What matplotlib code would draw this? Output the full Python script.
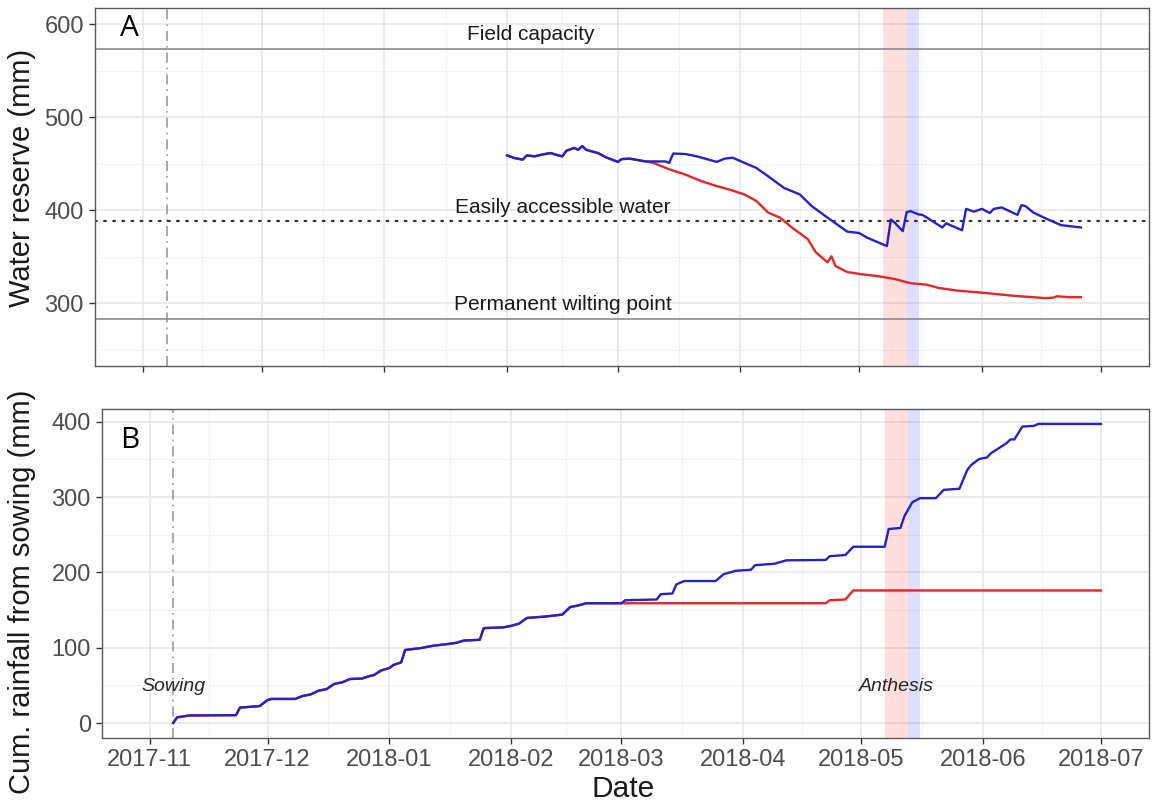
import datetime as dt
import matplotlib
matplotlib.use("Agg")
import matplotlib.pyplot as plt
import matplotlib.dates as mdates

# ---- data -------------------------------------------------------------
# Soil water reserve (mm)
wr_common_dates = ["2018-02-01", "2018-02-03", "2018-02-05", "2018-02-06", "2018-02-08",
                   "2018-02-10", "2018-02-12", "2018-02-14", "2018-02-15", "2018-02-16",
                   "2018-02-18", "2018-02-19", "2018-02-20", "2018-02-21", "2018-02-24",
                   "2018-02-26", "2018-03-01", "2018-03-02", "2018-03-04", "2018-03-06"]
wr_common_vals = [459, 456, 454.5, 459, 458, 460, 461.5, 459, 458, 464,
                  467, 465, 469, 465, 461.5, 457, 452, 455, 455.5, 454]

wr_red_dates = ["2018-03-10", "2018-03-14", "2018-03-18", "2018-03-22", "2018-03-26",
                "2018-03-29", "2018-04-02", "2018-04-05", "2018-04-08", "2018-04-11",
                "2018-04-14", "2018-04-18", "2018-04-20", "2018-04-23", "2018-04-24",
                "2018-04-25", "2018-04-28", "2018-05-02", "2018-05-06", "2018-05-10",
                "2018-05-14", "2018-05-18", "2018-05-21", "2018-05-26", "2018-06-02",
                "2018-06-09", "2018-06-17", "2018-06-19", "2018-06-20", "2018-06-23",
                "2018-06-26"]
wr_red_vals = [451, 444, 438.5, 431.5, 426, 422.5, 417, 410, 397.5, 392,
               381.5, 369, 355, 344, 350.5, 340, 333.5, 331, 329, 326,
               321.5, 320, 316.5, 313.5, 311, 308, 305.5, 306, 307.5, 306.5,
               306.5]

wr_blue_dates = ["2018-03-08", "2018-03-13", "2018-03-14", "2018-03-15", "2018-03-18",
                 "2018-03-21", "2018-03-26", "2018-03-28", "2018-03-30", "2018-04-02",
                 "2018-04-05", "2018-04-08", "2018-04-12", "2018-04-16", "2018-04-19",
                 "2018-04-23", "2018-04-28", "2018-05-01", "2018-05-03", "2018-05-08",
                 "2018-05-09", "2018-05-10", "2018-05-12", "2018-05-13", "2018-05-14",
                 "2018-05-16", "2018-05-17", "2018-05-22", "2018-05-23", "2018-05-24",
                 "2018-05-27", "2018-05-28", "2018-05-30", "2018-06-01", "2018-06-03",
                 "2018-06-04", "2018-06-06", "2018-06-08", "2018-06-10", "2018-06-11",
                 "2018-06-12", "2018-06-14", "2018-06-18", "2018-06-21", "2018-06-26"]
wr_blue_vals = [452.5, 452.5, 451, 461, 460.5, 458, 452, 455.5, 456.5, 451,
                445.5, 436.5, 424, 417, 404.5, 392, 377, 375.5, 370.5, 361.5,
                390, 386.5, 377.5, 398, 399, 395.5, 395, 381.5, 386, 384,
                378.5, 401.5, 398.5, 401.5, 397, 401.5, 403, 399, 395, 405.5,
                404.5, 397.5, 389.5, 384, 381.5]

field_capacity = 573
easily_accessible = 388
wilting_point = 283

# Cumulative rainfall from sowing (mm)
rain_common_dates = ["2017-11-07", "2017-11-08", "2017-11-11", "2017-11-23", "2017-11-24",
                     "2017-11-29", "2017-12-01", "2017-12-02", "2017-12-08", "2017-12-10",
                     "2017-12-12", "2017-12-14", "2017-12-16", "2017-12-18", "2017-12-20",
                     "2017-12-22", "2017-12-25", "2017-12-27", "2017-12-28", "2017-12-30",
                     "2018-01-01", "2018-01-02", "2018-01-04", "2018-01-05", "2018-01-09",
                     "2018-01-12", "2018-01-16", "2018-01-18", "2018-01-20", "2018-01-24",
                     "2018-01-25", "2018-01-30", "2018-02-01", "2018-02-03", "2018-02-05",
                     "2018-02-10", "2018-02-14", "2018-02-16", "2018-02-18", "2018-02-20",
                     "2018-03-01"]
rain_common_vals = [0, 7.5, 10, 10.5, 20.5, 22.5, 30.5, 32, 32, 36,
                    38, 43, 45, 52, 54, 58.5, 59, 62.5, 63.5, 70,
                    73, 77, 80.5, 97, 99.5, 102.5, 105, 106.5, 109.5, 110.5,
                    126, 127, 129, 132, 139.5, 141.5, 144, 154, 156, 159,
                    159]

rain_red_dates = ["2018-03-01", "2018-04-22", "2018-04-23", "2018-04-27", "2018-04-29",
                  "2018-07-01"]
rain_red_vals = [159, 159, 163, 164, 176, 176]

rain_blue_dates = ["2018-03-01", "2018-03-02", "2018-03-10", "2018-03-11", "2018-03-14",
                   "2018-03-15", "2018-03-17", "2018-03-25", "2018-03-27", "2018-03-30",
                   "2018-04-03", "2018-04-04", "2018-04-09", "2018-04-12", "2018-04-22",
                   "2018-04-23", "2018-04-27", "2018-04-29", "2018-05-07", "2018-05-08",
                   "2018-05-11", "2018-05-12", "2018-05-14", "2018-05-16", "2018-05-20",
                   "2018-05-22", "2018-05-26", "2018-05-28", "2018-05-29", "2018-05-31",
                   "2018-06-02", "2018-06-03", "2018-06-07", "2018-06-08", "2018-06-09",
                   "2018-06-11", "2018-06-14", "2018-06-15", "2018-07-01"]
rain_blue_vals = [159, 163, 164, 171, 172, 184, 188.5, 188.5, 197.5, 202,
                  203.5, 209.5, 211.5, 216, 216.5, 221.5, 223, 234, 234, 257.5,
                  259, 274.5, 293, 298.5, 298.5, 309.5, 311, 336, 342.5, 350.5,
                  352.5, 358, 371.5, 376.5, 376.5, 393.5, 394.5, 397, 397]

sowing_date = "2017-11-07"
anthesis_red = ("2018-05-07", "2018-05-13")
anthesis_blue = ("2018-05-13", "2018-05-16")
month_ticks = ["2017-11-01", "2017-12-01", "2018-01-01", "2018-02-01", "2018-03-01",
               "2018-04-01", "2018-05-01", "2018-06-01", "2018-07-01"]

# ---- helpers ------------------------------------------------------------
def d(s):
    return dt.datetime.strptime(s, "%Y-%m-%d")

def ds(lst):
    return [d(s) for s in lst]

plt.rcParams["font.family"] = ["Liberation Sans", "DejaVu Sans"]

W, H = 1153, 805
fig = plt.figure(figsize=(W / 100, H / 100), dpi=100)

def px_axes(left, top, right, bottom):
    return fig.add_axes([left / W, 1 - bottom / H, (right - left) / W, (bottom - top) / H])

ax1 = px_axes(95, 8, 1148.5, 366)
ax2 = px_axes(102, 409, 1148.5, 738)

RED = "#E3262A"
BLUE = "#2323C8"
TICK_COL = "#4D4D4D"
BORDER = "#5A5A5A"

x0 = mdates.date2num(d(month_ticks[0]))
x1 = mdates.date2num(d(month_ticks[-1]))
pad = 0.05 * (x1 - x0)
majors = [mdates.date2num(d(s)) for s in month_ticks]
minors = [(a + b) / 2 for a, b in zip(majors[:-1], majors[1:])]

for ax in (ax1, ax2):
    ax.set_xlim(x0 - pad, x1 + pad)
    ax.set_xticks(majors)
    ax.set_xticks(minors, minor=True)
    ax.grid(True, which="major", color="#E6E6E6", lw=1.1, zorder=0)
    ax.grid(True, which="minor", color="#F0F0F0", lw=0.6, zorder=0)
    ax.set_axisbelow(True)
    for sp in ax.spines.values():
        sp.set_color(BORDER)
        sp.set_linewidth(1.0)
    ax.tick_params(which="major", length=4, width=1.0, color="#333333",
                   labelcolor=TICK_COL, labelsize=17, pad=4)
    ax.tick_params(which="minor", length=0)
    ax.axvspan(d(anthesis_red[0]), d(anthesis_red[1]), color="red", alpha=0.13, lw=0, zorder=1)
    ax.axvspan(d(anthesis_blue[0]), d(anthesis_blue[1]), color="blue", alpha=0.13, lw=0, zorder=1)
    ax.axvline(d(sowing_date), color="#9A9A9A", lw=1.2, ls=(0, (6, 3, 1, 3)), zorder=2)

# ---- panel A: water reserve --------------------------------------------
ax1.set_ylim(250 - 17.5, 600 + 17.5)
ax1.set_yticks([300, 400, 500, 600])
ax1.set_yticks([250, 350, 450, 550], minor=True)
ax1.xaxis.set_ticklabels([])

ax1.axhline(field_capacity, color="#8C8C8C", lw=1.2, zorder=2)
ax1.axhline(wilting_point, color="#8C8C8C", lw=1.2, zorder=2)
ax1.axhline(easily_accessible, color="#333333", lw=1.6, ls=(0, (0.8, 3.3)),
            dash_capstyle="round", zorder=2)

ax1.plot(ds(wr_common_dates + wr_red_dates), wr_common_vals + wr_red_vals,
         color=RED, lw=1.7, zorder=3)
ax1.plot(ds(wr_common_dates + wr_blue_dates), wr_common_vals + wr_blue_vals,
         color=BLUE, lw=1.7, zorder=4)

ann = dict(ha="center", va="center", fontsize=15, color="#1A1A1A", zorder=5)
ax1.text(d("2018-02-07"), 589.5, "Field capacity", **ann)
ax1.text(d("2018-02-15"), 403, "Easily accessible water", **ann)
ax1.text(d("2018-02-15"), 299, "Permanent wilting point", **ann)

# ---- panel B: cumulative rainfall --------------------------------------
ymax = 397
ax2.set_ylim(-0.05 * ymax, ymax * 1.05)
ax2.set_yticks([0, 100, 200, 300, 400])
ax2.set_yticks([50, 150, 250, 350], minor=True)
ax2.xaxis.set_major_formatter(mdates.DateFormatter("%Y-%m"))

ax2.plot(ds(rain_common_dates + rain_red_dates[1:]), rain_common_vals + rain_red_vals[1:],
         color=RED, lw=1.7, zorder=3)
ax2.plot(ds(rain_common_dates + rain_blue_dates[1:]), rain_common_vals + rain_blue_vals[1:],
         color=BLUE, lw=1.7, zorder=4)

ital = dict(ha="center", va="center", fontsize=14, style="italic", color="#262626", zorder=5)
ax2.text(d(sowing_date), 48, "Sowing", **ital)
ax2.text(d("2018-05-10"), 48, "Anthesis", **ital)

# ---- titles and panel tags ---------------------------------------------
title = dict(rotation=90, ha="center", va="center", fontsize=21, color="#1A1A1A")
fig.text(22 / W, 1 - 178 / H, "Water reserve (mm)", **title)
fig.text(22 / W, 1 - 592 / H, "Cum. rainfall from sowing (mm)", **title)
fig.text(623 / W, 1 - 789 / H, "Date", ha="center", va="center", fontsize=21.5,
         color="#1A1A1A")
tag = dict(ha="center", va="center", fontsize=21.5, family=["Open Sans", "DejaVu Sans"], color="black")
fig.text(129 / W, 1 - 29 / H, "A", **tag)
fig.text(130 / W, 1 - 440 / H, "B", **tag)

fig.savefig("out.png", dpi=100)
